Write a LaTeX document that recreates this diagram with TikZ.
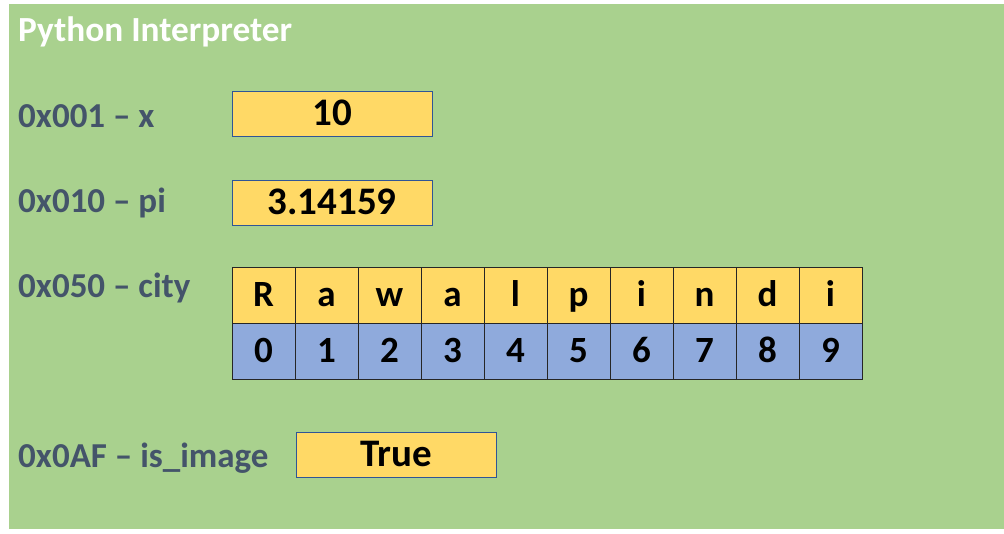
\documentclass[tikz,border=0pt]{standalone}
\usepackage{fontspec}
\setmainfont{Carlito}
\usetikzlibrary{positioning}
\definecolor{bggreen}{HTML}{A9D18E}
\definecolor{valyellow}{HTML}{FFD966}
\definecolor{idxblue}{HTML}{8FAADC}
\definecolor{addrgray}{HTML}{44546A}
\definecolor{boxblue}{HTML}{2F5597}
\definecolor{cellline}{HTML}{262626}
\tikzstyle{title} = [anchor=base west, inner sep=0pt, text=white, font=\fontsize{35.3}{40}\selectfont\bfseries]
\tikzstyle{addr} = [anchor=base west, inner sep=0pt, text=addrgray, font=\fontsize{35}{40}\selectfont\bfseries]
\tikzstyle{value} = [rectangle, draw=boxblue, line width=1pt, fill=valyellow, minimum width=200pt, minimum height=45pt, inner sep=0pt, text height=24.5pt, text depth=0pt, font=\fontsize{39}{44}\selectfont\bfseries]
\tikzstyle{cell} = [rectangle, draw=cellline, line width=1pt, minimum width=63pt, minimum height=56pt, inner sep=0pt, outer sep=0pt, text height=23.5pt, text depth=0pt, font=\fontsize{37}{42}\selectfont\bfseries]

\begin{document}
\begin{tikzpicture}[x=1pt, y=-1pt]
	\useasboundingbox (0,0) rectangle (1004,533);
	\fill [bggreen] (9,4) rectangle (1004,529);
	\node [title] (interp) at (18,41) {Python Interpreter};
	\node [addr] (addrx) at (18,127) {0x001 – x};
	\node [addr] (addrpi) at (18,212) {0x010 – pi};
	\node [addr] (addrcity) at (18,297) {0x050 – city};
	\node [addr] (addrimg) at (18,467) {0x0AF – is\_image};
	\node [value] (valx) at (332,113.5) {10};
	\node [value] (valpi) at (332,202.5) {3.14159};
	\node [value] (valimg) at (396.5,454.5) {True};
	\foreach \ch [count=\i from 0] in {R,a,w,a,l,p,i,n,d,i} {
		\node [cell, fill=valyellow] (chr\i) at ({263.5+63*\i},295) {\ch};
		\node [cell, fill=idxblue, below=0pt of chr\i] (idx\i) {\i};
	}
\end{tikzpicture}
\end{document}
